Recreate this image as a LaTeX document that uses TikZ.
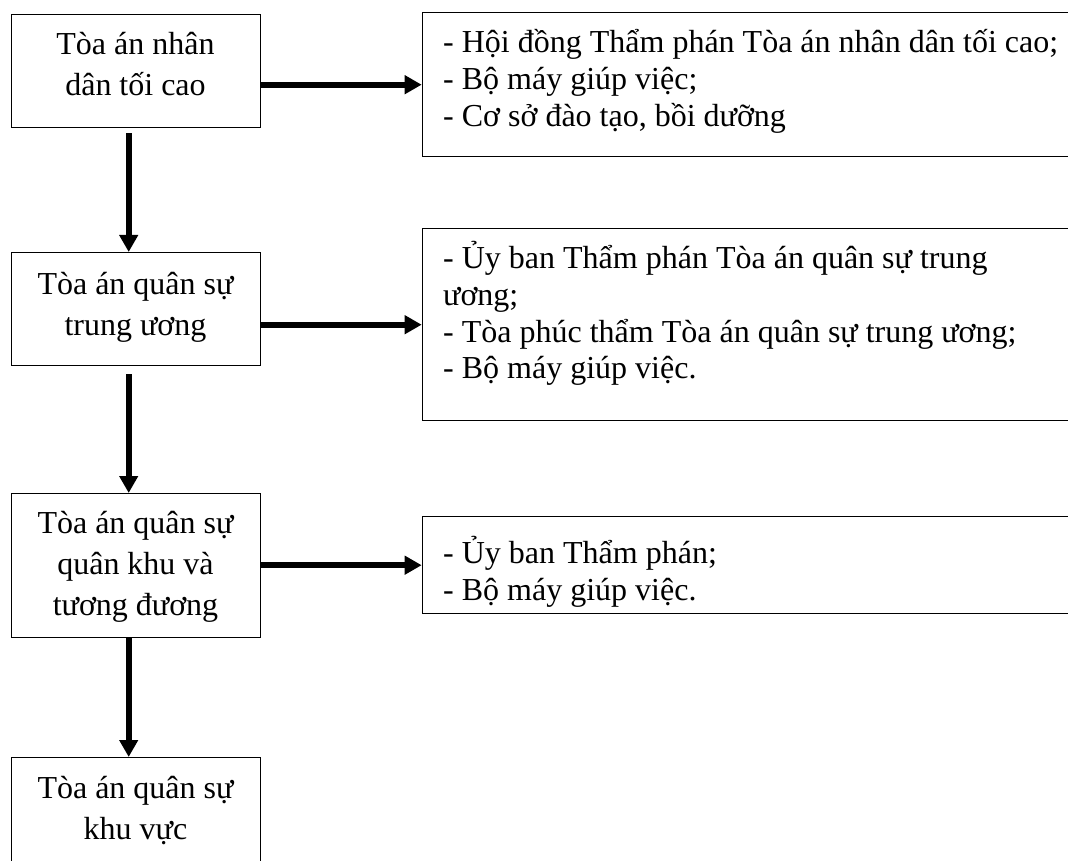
\documentclass[tikz,border=0pt]{standalone}
\usepackage{fontspec}
\setmainfont{Liberation Serif}
\usetikzlibrary{arrows.meta}
\begin{document}
\begin{tikzpicture}[x=1pt,y=-1pt,
  box/.style={draw=black, line width=1.4pt, rectangle, inner sep=0pt, anchor=north west},
  arr/.style={line width=6pt, -{Triangle[length=17pt,width=18pt]}},
  ltext/.style={inner sep=0pt, anchor=base, font=\fontsize{32}{41}\selectfont},
  rtext/.style={inner sep=0pt, anchor=base west, font=\fontsize{32}{37}\selectfont}]
\useasboundingbox (0,0) rectangle (1068,861);
\fill[white] (0,0) rectangle (1068,861);
\clip (0,0) rectangle (1068,861);
% left column boxes
\node[box, minimum width=249pt, minimum height=113pt] (b1) at (11,14) {};
\node[box, minimum width=249pt, minimum height=113pt] (b2) at (11,252) {};
\node[box, minimum width=249pt, minimum height=144pt] (b3) at (11,493) {};
\node[box, minimum width=249pt, minimum height=150pt] (b4) at (11,757) {};
% right column boxes
\node[box, minimum width=700pt, minimum height=144pt] (r1) at (421.7,12) {};
\node[box, minimum width=700pt, minimum height=192pt] (r2) at (421.7,228) {};
\node[box, minimum width=700pt, minimum height=97pt] (r3) at (421.7,516) {};
% texts
\node[ltext] (t1) at (135.5,55) {\parbox[t]{249pt}{\centering Tòa án nhân\\dân tối cao}};
\node[ltext] (t2) at (135.5,294) {\parbox[t]{249pt}{\centering Tòa án quân sự\\trung ương}};
\node[ltext] (t3) at (135.5,533) {\parbox[t]{249pt}{\centering Tòa án quân sự\\quân khu và\\tương đương}};
\node[ltext] (t4) at (135.5,798) {\parbox[t]{249pt}{\centering Tòa án quân sự\\khu vực}};
\node[rtext] (t5) at (443,53) {\parbox[t]{620pt}{\raggedright - Hội đồng Thẩm phán Tòa án nhân dân tối cao;\\- Bộ máy giúp việc;\\- Cơ sở đào tạo, bồi dưỡng}};
\node[rtext] (t6) at (443,268) {\parbox[t]{620pt}{\raggedright - Ủy ban Thẩm phán Tòa án quân sự trung\\ương;\\- Tòa phúc thẩm Tòa án quân sự trung ương;\\- Bộ máy giúp việc.}};
\node[rtext] (t7) at (443,563) {\parbox[t]{620pt}{\raggedright - Ủy ban Thẩm phán;\\- Bộ máy giúp việc.}};
% vertical arrows
\draw[arr] ([xshift=-7.5pt,yshift=-5pt]b1.south) -- ([xshift=-7.5pt]b2.north);
\draw[arr] ([xshift=-7.5pt,yshift=-8pt]b2.south) -- ([xshift=-7.5pt]b3.north);
\draw[arr] ([xshift=-7.5pt]b3.south) -- ([xshift=-7.5pt]b4.north);
% horizontal arrows
\draw[arr] (b1.east |- r1.west) -- (r1.west);
\draw[arr] (b2.east |- r2.west) -- (r2.west);
\draw[arr] (b3.east |- r3.west) -- (r3.west);
\end{tikzpicture}
\end{document}
